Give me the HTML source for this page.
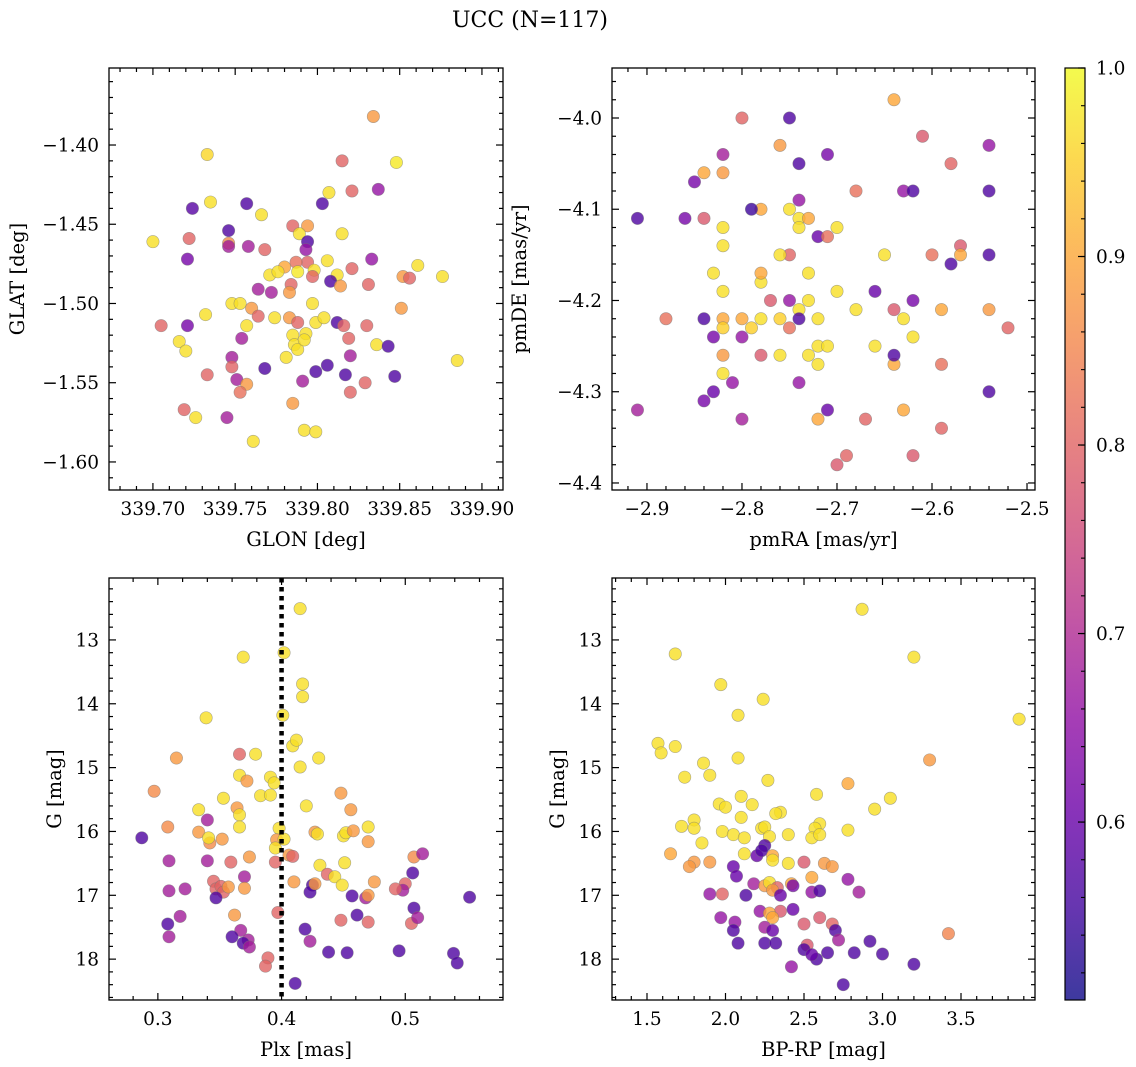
<!DOCTYPE html>
<html><head><meta charset="utf-8"><style>
html,body{margin:0;padding:0;background:#fff;}
svg{display:block;font-family:"DejaVu Serif","Liberation Serif",serif;}
</style></head><body>
<svg id="fig" width="1136" height="1067" viewBox="0 0 1136 1067" xmlns="http://www.w3.org/2000/svg">
<text x="530" y="27" font-size="22" text-anchor="middle">UCC (N=117)</text>
</svg>
<script>
// Panel 1: GLON / GLAT
const p1x=[339.834,339.848,339.733,339.815,339.735,339.724,339.700,339.807,339.821,339.837,339.803,339.757,339.746,339.766,339.794,339.785,339.815,339.789,339.746,339.746,339.758,339.768,339.794,339.793,339.721,339.722,339.833,339.794,339.787,339.806,339.798,339.780,339.771,339.776,339.788,339.812,339.852,339.856,339.861,339.876,339.784,339.797,339.808,339.764,339.772,339.783,339.814,339.831,339.821,339.748,339.753,339.797,339.732,339.760,339.774,339.783,339.788,339.799,339.812,339.785,339.793,339.804,339.764,339.757,339.705,339.721,339.816,339.830,339.851,339.716,339.720,339.754,339.786,339.788,339.781,339.792,339.819,339.836,339.843,339.748,339.733,339.751,339.768,339.748,339.799,339.806,339.817,339.820,339.791,339.847,339.829,339.757,339.753,339.785,339.820,339.885,339.719,339.726,339.745,339.792,339.799,339.761];
const p1y=[-1.382,-1.411,-1.406,-1.410,-1.436,-1.440,-1.461,-1.430,-1.429,-1.428,-1.437,-1.437,-1.454,-1.444,-1.451,-1.451,-1.456,-1.456,-1.462,-1.464,-1.464,-1.466,-1.461,-1.466,-1.472,-1.459,-1.472,-1.474,-1.474,-1.473,-1.479,-1.477,-1.482,-1.480,-1.480,-1.482,-1.483,-1.484,-1.476,-1.483,-1.488,-1.483,-1.486,-1.491,-1.493,-1.493,-1.489,-1.488,-1.478,-1.500,-1.500,-1.500,-1.507,-1.503,-1.509,-1.509,-1.512,-1.512,-1.512,-1.520,-1.519,-1.509,-1.508,-1.514,-1.514,-1.514,-1.514,-1.514,-1.503,-1.524,-1.530,-1.522,-1.526,-1.529,-1.534,-1.523,-1.522,-1.526,-1.527,-1.534,-1.545,-1.548,-1.541,-1.540,-1.543,-1.539,-1.545,-1.533,-1.549,-1.546,-1.550,-1.551,-1.556,-1.563,-1.556,-1.536,-1.567,-1.572,-1.572,-1.580,-1.581,-1.587];
const p1c=[.88,.98,.96,.80,.97,.58,.97,.97,.80,.66,.57,.57,.57,.97,.88,.80,.97,.97,.86,.68,.68,.80,.57,.66,.62,.80,.66,.80,.82,.97,.97,.90,.97,.97,.98,.97,.88,.80,.97,.97,.80,.80,.57,.68,.68,.88,.88,.80,.80,.97,.97,.97,.97,.88,.97,.88,.80,.97,.57,.97,.97,.97,.80,.97,.80,.62,.80,.80,.88,.97,.97,.68,.97,.97,.97,.97,.80,.97,.57,.68,.80,.68,.57,.80,.57,.57,.57,.68,.68,.57,.80,.88,.82,.88,.80,.97,.80,.97,.68,.97,.97,.97];
// Panel 2: pmRA / pmDE
const p2x=[-2.64,-2.80,-2.75,-2.71,-2.61,-2.54,-2.76,-2.82,-2.84,-2.82,-2.85,-2.74,-2.58,-2.63,-2.62,-2.68,-2.54,-2.91,-2.86,-2.84,-2.78,-2.79,-2.74,-2.75,-2.74,-2.74,-2.73,-2.82,-2.72,-2.71,-2.70,-2.75,-2.76,-2.65,-2.60,-2.57,-2.57,-2.58,-2.54,-2.82,-2.78,-2.83,-2.78,-2.73,-2.82,-2.77,-2.74,-2.75,-2.73,-2.70,-2.66,-2.62,-2.88,-2.84,-2.82,-2.80,-2.78,-2.76,-2.72,-2.68,-2.63,-2.59,-2.54,-2.52,-2.82,-2.79,-2.75,-2.74,-2.64,-2.62,-2.83,-2.82,-2.80,-2.76,-2.72,-2.71,-2.73,-2.72,-2.66,-2.64,-2.59,-2.64,-2.82,-2.74,-2.81,-2.83,-2.84,-2.91,-2.54,-2.71,-2.72,-2.67,-2.63,-2.80,-2.59,-2.62,-2.69,-2.70,-2.78];
const p2y=[-3.98,-4.00,-4.00,-4.04,-4.02,-4.03,-4.03,-4.04,-4.06,-4.06,-4.07,-4.05,-4.05,-4.08,-4.08,-4.08,-4.08,-4.11,-4.11,-4.11,-4.10,-4.10,-4.09,-4.10,-4.11,-4.12,-4.11,-4.12,-4.13,-4.13,-4.12,-4.15,-4.15,-4.15,-4.15,-4.14,-4.15,-4.16,-4.15,-4.14,-4.18,-4.17,-4.17,-4.17,-4.19,-4.20,-4.21,-4.20,-4.20,-4.19,-4.19,-4.20,-4.22,-4.22,-4.22,-4.22,-4.22,-4.22,-4.22,-4.21,-4.22,-4.21,-4.21,-4.23,-4.23,-4.23,-4.23,-4.22,-4.21,-4.24,-4.24,-4.26,-4.24,-4.26,-4.25,-4.25,-4.26,-4.27,-4.25,-4.27,-4.27,-4.26,-4.28,-4.29,-4.29,-4.30,-4.31,-4.32,-4.30,-4.32,-4.33,-4.33,-4.32,-4.33,-4.34,-4.37,-4.37,-4.38,-4.26];
const p2c=[.90,.80,.57,.62,.78,.66,.88,.68,.90,.88,.62,.57,.80,.66,.57,.82,.57,.57,.62,.78,.90,.55,.66,.97,.97,.97,.90,.97,.60,.82,.97,.80,.97,.97,.82,.78,.90,.57,.57,.97,.97,.97,.90,.97,.97,.78,.97,.66,.97,.97,.60,.62,.82,.57,.90,.90,.97,.95,.97,.97,.97,.90,.88,.80,.95,.95,.82,.57,.78,.97,.62,.88,.66,.97,.97,.97,.97,.97,.97,.90,.82,.57,.97,.66,.66,.60,.62,.68,.57,.60,.90,.80,.90,.68,.80,.78,.80,.78,.78];
// Panel 3: Plx / G
const p3x=[0.415,0.369,0.402,0.417,0.417,0.339,0.401,0.366,0.379,0.409,0.412,0.315,0.430,0.415,0.297,0.366,0.372,0.391,0.394,0.383,0.391,0.448,0.420,0.353,0.364,0.366,0.333,0.456,0.340,0.308,0.333,0.366,0.398,0.427,0.396,0.402,0.352,0.342,0.341,0.395,0.429,0.340,0.359,0.309,0.374,0.406,0.450,0.452,0.458,0.470,0.470,0.287,0.395,0.409,0.431,0.437,0.451,0.425,0.507,0.514,0.443,0.423,0.457,0.345,0.347,0.351,0.370,0.353,0.370,0.357,0.410,0.427,0.500,0.498,0.468,0.475,0.470,0.449,0.309,0.322,0.347,0.362,0.367,0.318,0.308,0.309,0.373,0.419,0.470,0.448,0.461,0.505,0.507,0.506,0.539,0.542,0.552,0.423,0.369,0.397,0.389,0.374,0.360,0.438,0.453,0.495,0.387,0.411,0.510,0.492];
const p3y=[12.51,13.27,13.20,13.69,13.89,14.22,14.18,14.79,14.79,14.66,14.57,14.85,14.85,14.99,15.37,15.12,15.21,15.15,15.24,15.44,15.43,15.40,15.60,15.48,15.63,15.74,15.66,15.66,15.82,15.93,16.01,15.93,15.95,16.01,16.13,16.12,16.12,16.18,16.10,16.26,16.04,16.46,16.48,16.46,16.40,16.37,16.07,16.02,15.99,16.16,15.93,16.10,16.48,16.39,16.53,16.67,16.49,16.84,16.40,16.35,16.71,16.95,17.01,16.78,16.90,16.86,16.71,16.95,16.89,16.87,16.79,16.82,16.82,16.92,17.04,16.79,17.00,16.84,16.93,16.90,17.04,17.31,17.55,17.33,17.45,17.65,17.70,17.53,17.42,17.39,17.31,17.44,17.20,16.65,17.91,18.06,17.03,17.72,17.75,17.27,17.98,17.81,17.65,17.89,17.90,17.87,18.11,18.38,17.35,16.90];
const p3c=[.97,.97,.97,.97,.97,.97,.97,.80,.97,.97,.97,.88,.97,.97,.86,.97,.88,.97,.97,.97,.97,.88,.97,.97,.88,.97,.97,.88,.68,.86,.88,.97,.97,.88,.88,.97,.88,.86,.97,.97,.97,.68,.80,.68,.88,.88,.97,.97,.88,.88,.97,.57,.80,.80,.97,.80,.97,.57,.86,.68,.97,.57,.57,.80,.80,.80,.68,.80,.88,.88,.88,.88,.80,.68,.68,.88,.88,.97,.68,.68,.57,.88,.68,.68,.57,.68,.68,.57,.80,.80,.57,.80,.57,.57,.57,.57,.57,.68,.57,.80,.80,.68,.57,.57,.57,.57,.80,.57,.68,.80];
// Panel 4: BP-RP / G
const p4x=[2.87,1.68,3.20,1.97,2.08,2.24,3.87,1.57,1.59,1.68,1.86,2.08,1.90,1.74,2.27,2.78,3.30,2.10,3.05,2.95,2.58,1.96,2.00,1.80,2.17,2.35,2.32,2.60,2.57,2.78,1.72,1.80,1.98,2.10,2.23,2.25,2.05,2.12,2.28,2.40,2.55,2.60,1.65,1.85,1.80,1.77,1.90,2.12,2.20,2.05,2.07,2.25,2.23,2.30,2.30,2.40,2.50,2.63,2.55,2.85,1.90,1.98,2.18,2.25,2.28,2.33,2.30,2.42,2.55,2.68,2.22,2.35,2.28,2.30,2.43,2.60,2.68,1.97,2.06,2.25,2.30,2.50,2.70,2.08,2.25,2.32,2.52,2.72,2.92,3.42,2.42,2.50,2.58,2.65,2.82,3.00,2.55,2.75,3.20,2.05,2.13,2.35,2.43,2.60,2.78];
const p4y=[12.52,13.22,13.27,13.70,14.18,13.93,14.24,14.62,14.77,14.67,14.93,14.85,15.12,15.15,15.20,15.25,14.88,15.45,15.48,15.65,15.42,15.57,15.62,15.82,15.58,15.70,15.72,15.88,15.95,15.98,15.92,15.95,16.00,15.78,15.95,15.93,16.05,16.10,16.08,16.05,16.10,16.05,16.35,16.18,16.48,16.55,16.48,16.35,16.38,16.55,16.70,16.22,16.30,16.38,16.45,16.50,16.48,16.50,16.95,16.95,16.98,16.98,16.82,16.85,16.80,16.88,16.92,16.82,16.72,16.55,17.25,17.25,17.28,17.35,17.22,17.35,17.45,17.35,17.42,17.50,17.55,17.45,17.55,17.75,17.75,17.75,17.78,17.70,17.72,17.60,18.12,17.85,18.00,17.90,17.90,17.92,17.93,18.40,18.08,17.55,17.00,17.00,16.85,16.93,16.75];
const p4c=[.97,.97,.97,.97,.97,.97,.97,.97,.97,.97,.97,.97,.97,.97,.97,.90,.88,.97,.97,.97,.97,.97,.97,.97,.97,.97,.97,.97,.97,.97,.97,.97,.97,.97,.97,.97,.97,.97,.97,.97,.97,.97,.90,.97,.88,.88,.88,.97,.60,.60,.60,.57,.57,.90,.97,.97,.78,.88,.66,.68,.66,.80,.68,.88,.97,.80,.88,.90,.90,.88,.66,.78,.90,.90,.60,.78,.80,.66,.66,.68,.60,.78,.57,.57,.57,.57,.78,.68,.57,.85,.66,.57,.57,.57,.57,.57,.60,.57,.57,.57,.57,.60,.62,.57,.66];
// Colorbar
const cbTicks=[0.6,0.7,0.8,0.9,1.0];
const cbMin=0.5056, cbMax=1.0;

const NS='http://www.w3.org/2000/svg';
const svg=document.getElementById('fig');
function mk(tag,attrs,parent){const e=document.createElementNS(NS,tag);for(const k in attrs)e.setAttribute(k,attrs[k]);(parent||svg).appendChild(e);return e;}
const stops=['#0d0887','#41049d','#6a00a8','#8f0da4','#b12a90','#cc4778','#e16462','#f2844b','#fca636','#fcce25','#f0f921'];
function hex(h){return [1,3,5].map(i=>parseInt(h.substr(i,2),16));}
function plasma(t){t=Math.max(0,Math.min(1,t));const f=t*10,i=Math.min(9,Math.floor(f)),r=f-i;const a=hex(stops[i]),b=hex(stops[i+1]);return 'rgb('+a.map((v,k)=>Math.round(v+(b[k]-v)*r)).join(',')+')';}
function fmt(v,d){return (v<0?'\u2212':'')+Math.abs(v).toFixed(d);}

function panel(o){
  const g=mk('g',{});
  
  
  const sx=v=>o.L+(v-o.x0)/(o.x1-o.x0)*(o.R-o.L);
  const sy=v=>o.T+(v-o.y0)/(o.y1-o.y0)*(o.B-o.T);
  const ax=mk('g',{stroke:'#000','stroke-width':1.2},g);
  
  
  const lo=Math.min(o.x0,o.x1),hi=Math.max(o.x0,o.x1);
  for(let k=Math.ceil(lo/o.xmin-1e-6);k*o.xmin<=hi+1e-9;k++){const v=k*o.xmin,x=sx(v);const maj=Math.abs(v/o.xmaj-Math.round(v/o.xmaj))<1e-6;const len=maj?7:4;
    mk('line',{x1:x,x2:x,y1:o.B,y2:o.B-len},ax);mk('line',{x1:x,x2:x,y1:o.T,y2:o.T+len},ax);
    if(maj){const t=mk('text',{x:x,y:o.B+25,'font-size':18.5,'text-anchor':'middle',stroke:'none'},g);t.textContent=fmt(v,o.xd);}}
  const ylo=Math.min(o.y0,o.y1),yhi=Math.max(o.y0,o.y1);
  for(let k=Math.ceil(ylo/o.ymin-1e-6);k*o.ymin<=yhi+1e-9;k++){const v=k*o.ymin,y=sy(v);const maj=Math.abs(v/o.ymaj-Math.round(v/o.ymaj))<1e-6;const len=maj?7:4;
    mk('line',{x1:o.L,x2:o.L+len,y1:y,y2:y},ax);mk('line',{x1:o.R,x2:o.R-len,y1:y,y2:y},ax);
    if(maj){const t=mk('text',{x:o.L-10,y:y+6.5,'font-size':18.5,'text-anchor':'end',stroke:'none'},g);t.textContent=fmt(v,o.yd);}}
  for(let i=0;i<o.xs.length;i++){
    const c=mk('circle',{cx:sx(o.xs[i]),cy:sy(o.ys[i]),r:6.2,fill:plasma((o.cs[i]-cbMin)/(cbMax-cbMin)),'fill-opacity':0.8,stroke:'#777','stroke-width':0.6,'stroke-opacity':0.6},g);
    
    
  }
  if(o.vline!==undefined){const l=mk('line',{x1:sx(o.vline),x2:sx(o.vline),y1:o.T,y2:o.B,stroke:'#000','stroke-width':4.5,'stroke-dasharray':'4.5,4.5'},g);
    }
  const fr=mk('rect',{x:o.L,y:o.T,width:o.R-o.L,height:o.B-o.T,fill:'none',stroke:'#000','stroke-width':1.3},g);
  
  const xl=mk('text',{x:(o.L+o.R)/2,y:o.B+56,'font-size':19.5,'text-anchor':'middle'},g);xl.textContent=o.xl;
  
  const yc=(o.T+o.B)/2;const yl=mk('text',{x:o.ylx,y:yc,'font-size':19.5,'text-anchor':'middle',transform:'rotate(-90 '+o.ylx+' '+yc+')'},g);yl.textContent=o.yl;
  
}
panel({name:'glon-glat-panel',L:109,R:503,T:68,B:490,x0:339.6733,x1:339.9128,y0:-1.3514,y1:-1.6177,xmaj:0.05,xmin:0.01,ymaj:0.05,ymin:0.01,xd:2,yd:2,xs:p1x,ys:p1y,cs:p1c,xl:'GLON [deg]',yl:'GLAT [deg]',ylx:24});
panel({name:'pm-panel',L:612,R:1035,T:68,B:490,x0:-2.9368,x1:-2.4916,y0:-3.9452,y1:-4.4077,xmaj:0.1,xmin:0.02,ymaj:0.1,ymin:0.02,xd:1,yd:1,xs:p2x,ys:p2y,cs:p2c,xl:'pmRA [mas/yr]',yl:'pmDE [mas/yr]',ylx:526});
panel({name:'plx-g-panel',L:109,R:503,T:578,B:1000,x0:0.2605,x1:0.5790,y0:12.03,y1:18.64,xmaj:0.1,xmin:0.02,ymaj:1,ymin:0.2,xd:1,yd:0,xs:p3x,ys:p3y,cs:p3c,xl:'Plx [mas]',yl:'G [mag]',ylx:61,vline:0.4});
panel({name:'cmd-panel',L:612,R:1035,T:578,B:1000,x0:1.2771,x1:3.9713,y0:12.03,y1:18.64,xmaj:0.5,xmin:0.1,ymaj:1,ymin:0.2,xd:1,yd:0,xs:p4x,ys:p4y,cs:p4c,xl:'BP-RP [mag]',yl:'G [mag]',ylx:564});

const cb=mk('g',{});
const defs=mk('defs',{},svg);const lg=mk('linearGradient',{id:'pl',x1:0,y1:1,x2:0,y2:0},defs);
for(let i=0;i<=20;i++){const t=i/20;mk('stop',{offset:t,'stop-color':plasma(t)},lg);}
const CT=68,CB=1000,CL=1065,CR=1085;
const cr=mk('rect',{x:CL,y:CT,width:CR-CL,height:CB-CT,fill:'url(#pl)','fill-opacity':0.8,stroke:'#000','stroke-width':1.2},cb);

const cy=v=>CB-(v-cbMin)/(cbMax-cbMin)*(CB-CT);
for(let k=Math.ceil(cbMin/0.02);k*0.02<=cbMax+1e-9;k++){const v=k*0.02,y=cy(v);mk('line',{x1:CR,x2:CR-4,y1:y,y2:y,stroke:'#000','stroke-width':1.1},cb);}
cbTicks.forEach(v=>{const y=cy(v);mk('line',{x1:CR,x2:CR-7,y1:y,y2:y,stroke:'#000','stroke-width':1.2},cb);
  const t=mk('text',{x:CR+11,y:y+6.5,'font-size':18.5},cb);t.textContent=v.toFixed(1);
  });
</script>
</body></html>
